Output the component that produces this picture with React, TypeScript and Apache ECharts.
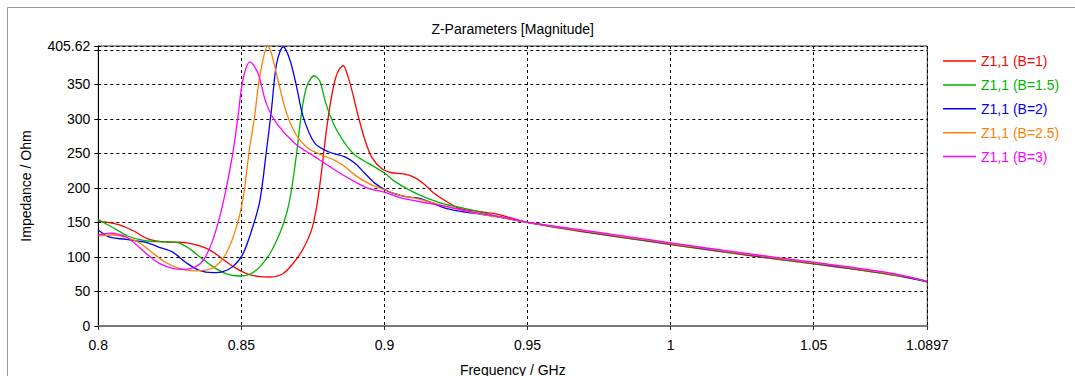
import React, { useEffect, useRef } from "react";
import * as echarts from "echarts";

const FONT = "'Liberation Sans', Arial, sans-serif";

const seriesNames = ["Z1,1 (B=1)", "Z1,1 (B=1.5)", "Z1,1 (B=2)", "Z1,1 (B=2.5)", "Z1,1 (B=3)"];
const seriesColors = ["#ff0000", "#00b400", "#0000ff", "#ff8000", "#ff00ff"];

const xTicksMin = 0.8;
const xTicksMax = 1.0897;
const yTicksMax = 405.62;

// frequency (GHz) / impedance (Ohm) samples
const redF = [0.8, 0.8064, 0.8122, 0.8169, 0.8215, 0.8262, 0.831, 0.8355, 0.839, 0.8425, 0.8472, 0.8518, 0.8565, 0.86, 0.8646, 0.8687, 0.8716, 0.8746, 0.8764, 0.8779, 0.8793, 0.8808, 0.8827, 0.8842, 0.8856, 0.8872, 0.8886, 0.8909, 0.8932, 0.8955, 0.899, 0.9025, 0.9066, 0.9101, 0.9136, 0.9171, 0.9218, 0.9264, 0.9322, 0.938, 0.9439, 0.95];
const redZ = [152, 147.5, 138, 127, 122.5, 121.5, 120.5, 116, 110, 100, 86, 76, 71.4, 71, 76, 94, 112, 140, 175, 220, 270, 315, 356, 372, 377, 362, 341.7, 303, 269, 245, 228, 222, 220.5, 216, 206.5, 193, 180, 170, 166.5, 163, 157, 150];

const greenF = [0.8, 0.8049, 0.8105, 0.8163, 0.8222, 0.828, 0.8317, 0.8355, 0.84, 0.8448, 0.8495, 0.853, 0.8565, 0.86, 0.8634, 0.8658, 0.8675, 0.8693, 0.871, 0.8728, 0.8754, 0.8775, 0.8795, 0.8827, 0.8862, 0.8897, 0.8944, 0.9002, 0.9031, 0.9078, 0.9124, 0.9194, 0.9252, 0.9322, 0.9392, 0.95];
const greenZ = [154, 143, 130, 123.5, 122, 120.5, 112.5, 100, 86, 75.5, 72.4, 75, 86, 105, 134, 163, 197, 250, 308, 346.5, 362.5, 354, 322.5, 288.6, 264.5, 247.6, 235.6, 221, 211, 199, 189.7, 178.5, 172.8, 166.5, 159, 150];

const blueF = [0.8, 0.8037, 0.8096, 0.8166, 0.8213, 0.826, 0.8306, 0.8353, 0.84, 0.8435, 0.847, 0.8505, 0.854, 0.8565, 0.8588, 0.8605, 0.8623, 0.8646, 0.867, 0.8693, 0.8716, 0.8757, 0.8804, 0.8862, 0.8897, 0.8932, 0.8967, 0.9013, 0.9078, 0.9124, 0.917, 0.9218, 0.9275, 0.9334, 0.9427, 0.95];
const blueZ = [139, 129, 125.5, 121, 114, 107, 92, 80.5, 77.2, 78.6, 86, 104, 143.8, 182.4, 255, 312.8, 380, 404.5, 385, 346.5, 303, 264.5, 252.4, 245, 235.6, 221, 206.6, 195, 187, 185, 177.6, 170, 165.5, 162, 156, 150];

const orangeF = [0.8, 0.8049, 0.8096, 0.8142, 0.8189, 0.8236, 0.8282, 0.8329, 0.8376, 0.8411, 0.8447, 0.8481, 0.8505, 0.8528, 0.8546, 0.8564, 0.8592, 0.8605, 0.8628, 0.8658, 0.8693, 0.8734, 0.8781, 0.8827, 0.8862, 0.8897, 0.8944, 0.9002, 0.9054, 0.9124, 0.9218, 0.9334, 0.9427, 0.95];
const orangeZ = [130.5, 131.8, 128.4, 121, 106, 92, 83.5, 80, 81, 87, 105, 141, 182.4, 255, 303, 361, 405.62, 394.8, 356, 308, 276, 257, 247.6, 240, 230.7, 218.6, 206.6, 197, 189.7, 183.5, 172.8, 162, 156, 150];

const magentaF = [0.8, 0.8042, 0.8096, 0.8135, 0.8176, 0.8213, 0.826, 0.8306, 0.8341, 0.837, 0.8403, 0.8436, 0.847, 0.8488, 0.8505, 0.853, 0.8558, 0.8587, 0.8623, 0.8687, 0.8757, 0.8827, 0.8886, 0.8944, 0.9002, 0.9054, 0.9124, 0.9218, 0.9334, 0.9427, 0.95];
const magentaZ = [132, 134.5, 129.3, 117, 102, 90.8, 83.5, 82, 86, 97, 128, 178, 250, 303, 356, 382.7, 366, 322.5, 293.5, 264.5, 245, 226, 211.4, 199.4, 193.6, 186, 180, 172.8, 163, 156.5, 150];

const tailF = [0.9625, 0.975, 0.9875, 1.0, 1.0125, 1.025, 1.0375, 1.05, 1.0625, 1.075, 1.0825, 1.0897];
const redTail = [141, 133, 125.5, 118, 110.5, 103.5, 96.5, 90, 83, 75.5, 70, 64];
const greenTail = [141.5, 133.5, 126, 118.5, 111, 104, 97, 90.5, 83.5, 76, 70.5, 64];
const blueTail = [142, 134, 126.5, 119, 111.5, 104.5, 97.5, 91, 84, 76.5, 71, 64.3];
const orangeTail = [142, 134.5, 127, 119.5, 112, 105, 98, 91.5, 84.5, 77, 71.5, 64.5];
const magentaTail = [143, 135.5, 128, 120.5, 113, 106, 99, 92.5, 85.5, 78, 72, 64.8];

const heads = [
  [redF, redZ, redTail],
  [greenF, greenZ, greenTail],
  [blueF, blueZ, blueTail],
  [orangeF, orangeZ, orangeTail],
  [magentaF, magentaZ, magentaTail],
];

function buildData(f: number[], z: number[], tail: number[]) {
  const fs = f.concat(tailF);
  const zs = z.concat(tail);
  return fs.map((x, i) => [x, zs[i]]);
}

export default function App() {
  const ref = useRef<HTMLDivElement>(null);
  useEffect(() => {
    if (!ref.current) return;
    const chart = echarts.init(ref.current, undefined, { renderer: "svg" });
    const labelStyle = { fontFamily: FONT, fontSize: 14, color: "#000" };
    chart.setOption({
      animation: false,
      backgroundColor: "#fff",
      grid: {
        left: 98.3,
        right: 147.7,
        top: 46,
        bottom: 50,
        show: true,
        borderColor: "#333",
        borderWidth: 1,
        containLabel: false,
        outerBoundsMode: "none",
      },
      graphic: [
        {
          type: "rect",
          shape: { x: 7.5, y: 7.5, width: 1200, height: 500 },
          style: { fill: "none", stroke: "#999", lineWidth: 1 },
          silent: true,
          z: -10,
        },
        {
          type: "text",
          x: 512.7,
          y: 29.3,
          style: {
            text: "Z-Parameters [Magnitude]",
            fontFamily: FONT,
            fontSize: 14,
            fill: "#000",
            align: "center",
            verticalAlign: "middle",
            textAlign: "center",
            textVerticalAlign: "middle",
          },
        },
      ],
      legend: {
        orient: "vertical",
        left: 943,
        top: 54,
        padding: 0,
        itemWidth: 33,
        itemHeight: 1.5,
        itemGap: 9.9,
        icon: "rect",
        textStyle: { fontFamily: FONT, fontSize: 14, lineHeight: 14 },
        data: seriesNames.map((n, i) => ({ name: n, textStyle: { color: seriesColors[i] } })),
      },
      xAxis: {
        type: "value",
        min: xTicksMin,
        max: xTicksMax,
        interval: 0.05,
        name: "Frequency / GHz",
        nameLocation: "middle",
        nameGap: 37,
        nameTextStyle: labelStyle,
        axisLine: { show: true, onZero: false, lineStyle: { color: "#7a7a7a", width: 2 } },
        axisTick: { show: true, length: 4, lineStyle: { color: "#333" } },
        axisLabel: {
          ...labelStyle,
          margin: 12,
          formatter: (v: number) => String(parseFloat(v.toFixed(4))),
        },
        splitLine: { show: true, lineStyle: { color: "#000", type: [3, 3], width: 1 } },
      },
      yAxis: {
        type: "value",
        min: 0,
        max: yTicksMax,
        interval: 50,
        name: "Impedance / Ohm",
        nameLocation: "middle",
        nameGap: 65,
        nameRotate: 90,
        nameTextStyle: labelStyle,
        axisLine: { show: true, lineStyle: { color: "#000", width: 1 } },
        axisTick: { show: true, length: 4, lineStyle: { color: "#000" } },
        axisLabel: {
          ...labelStyle,
          margin: 8,
          showMaxLabel: true,
          formatter: (v: number) => {
            if (Math.abs(v - 400) < 1e-6) return "";
            return String(parseFloat(v.toFixed(2)));
          },
        },
        splitLine: { show: true, lineStyle: { color: "#000", type: [3, 3], width: 1 } },
      },
      series: heads.map((h, i) => ({
        name: seriesNames[i],
        type: "line",
        data: buildData(h[0], h[1], h[2]),
        showSymbol: false,
        symbol: "none",
        smooth: 0.3,
        lineStyle: { color: seriesColors[i], width: 1.3 },
        itemStyle: { color: seriesColors[i] },
      })),
    });
    return () => chart.dispose();
  }, []);
  return (
    <div
      ref={ref}
      style={{ position: "absolute", left: 0, top: 0, width: 1075, height: 376, background: "#fff" }}
    />
  );
}
